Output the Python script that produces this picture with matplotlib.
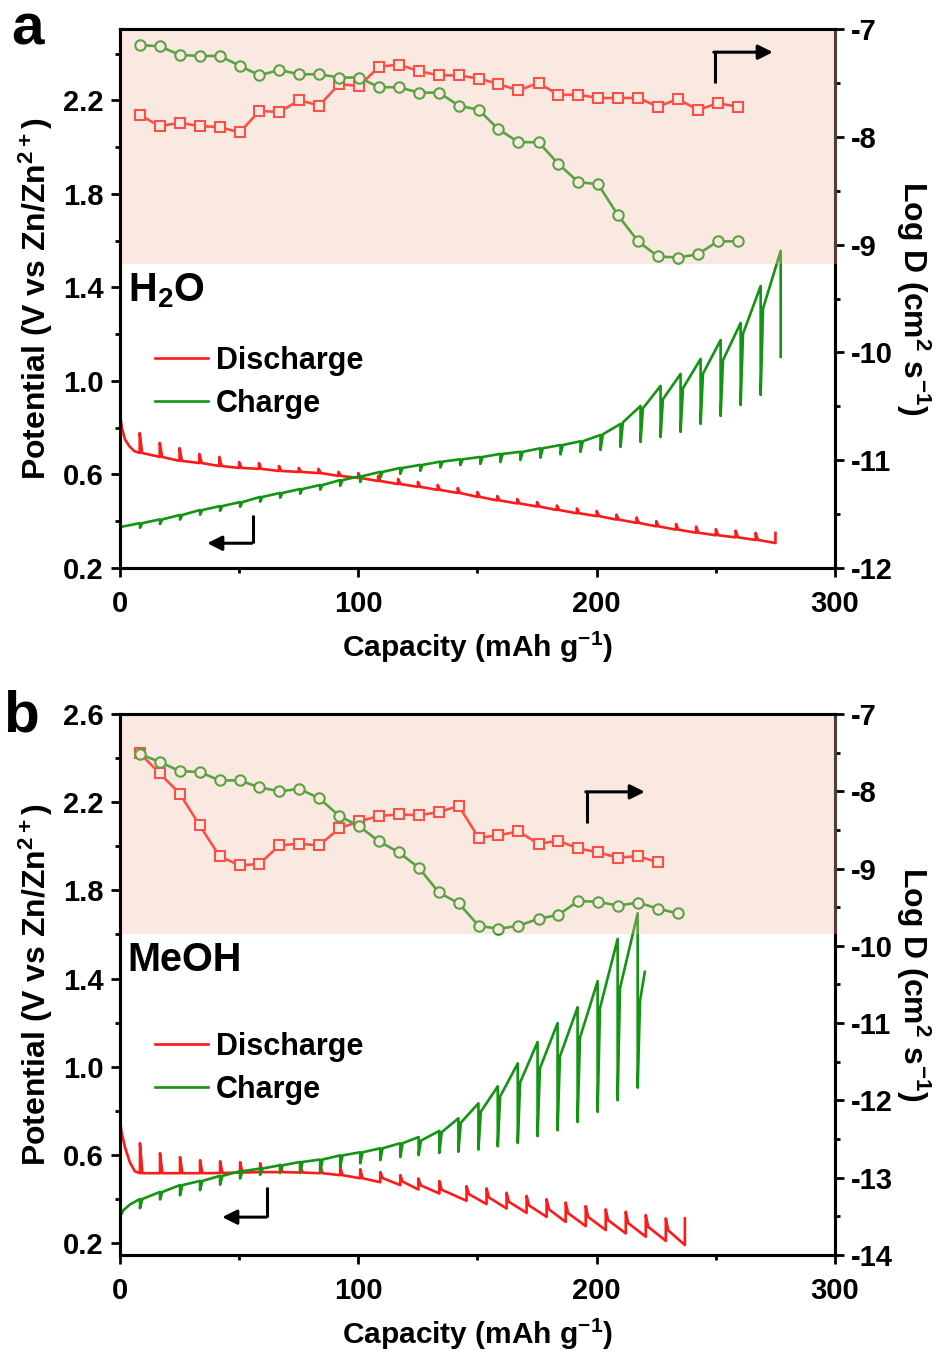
import matplotlib
matplotlib.use("Agg")
import matplotlib.pyplot as plt
from matplotlib.patches import Rectangle
from matplotlib.ticker import MultipleLocator

plt.rcParams.update({
    "font.family": "Liberation Sans",
    "font.weight": "bold",
    "axes.labelweight": "bold",
    "axes.unicode_minus": False,
    "mathtext.fontset": "custom",
    "mathtext.rm": "Liberation Sans:bold",
    "mathtext.it": "Liberation Sans:bold",
    "mathtext.bf": "Liberation Sans:bold",
    "mathtext.default": "rm",
})

RED = "#ff1a1a"
GREEN = "#139413"

# ---------------- panel a (H2O) ----------------
# GITT discharge: pulse ends, relaxed tops
a_dis_head_x = [0, 0.8, 2.1, 4.0, 6.0]
a_dis_head_v = [0.86, 0.80, 0.75, 0.72, 0.70]
a_dis_cap = [8.3, 16.7, 25.0, 33.3, 41.7, 50.0, 58.3, 66.7, 75.0, 83.3, 91.7, 100.0,
             108.3, 116.7, 125.0, 133.3, 141.7, 150.0, 158.3, 166.7, 175.0, 183.3,
             191.7, 200.0, 208.3, 216.7, 225.0, 233.3, 241.7, 250.0, 258.3, 266.7, 275.0]
a_dis_end = [0.692, 0.675, 0.658, 0.649, 0.636, 0.628, 0.624, 0.615, 0.611, 0.606, 0.594,
             0.585, 0.572, 0.559, 0.547, 0.534, 0.521, 0.504, 0.489, 0.476, 0.463, 0.448,
             0.434, 0.422, 0.407, 0.393, 0.378, 0.364, 0.351, 0.340, 0.331, 0.320, 0.307]
a_dis_top = [0.777, 0.735, 0.713, 0.688, 0.675, 0.653, 0.649, 0.636, 0.628, 0.624, 0.611,
             0.606, 0.594, 0.581, 0.568, 0.555, 0.542, 0.525, 0.508, 0.495, 0.482, 0.467,
             0.455, 0.444, 0.428, 0.416, 0.400, 0.388, 0.377, 0.366, 0.360, 0.350, 0.350]

# GITT charge: pulse peaks, relaxed troughs, value right after restart
a_chg_head_x = [0]
a_chg_head_v = [0.375]
a_chg_cap = [8.4, 16.8, 25.2, 33.6, 42.0, 50.4, 58.8, 67.2, 75.6, 84.0, 92.4, 100.8,
             109.2, 117.6, 126.0, 134.4, 142.8, 151.2, 159.6, 168.0, 176.4, 184.8,
             193.2, 201.6, 210.0, 218.4, 226.8, 235.2, 243.6, 252.0, 260.4, 268.8, 277.2]
a_chg_peak = [0.392, 0.408, 0.427, 0.448, 0.465, 0.482, 0.504, 0.521, 0.538, 0.555, 0.576,
              0.593, 0.611, 0.628, 0.641, 0.655, 0.665, 0.675, 0.688, 0.697, 0.712, 0.726,
              0.742, 0.769, 0.816, 0.893, 0.979, 1.030, 1.094, 1.175, 1.248, 1.406, 1.556]
a_chg_rest = [0.372, 0.388, 0.407, 0.428, 0.445, 0.462, 0.484, 0.501, 0.518, 0.535, 0.551,
              0.568, 0.586, 0.603, 0.616, 0.630, 0.640, 0.645, 0.653, 0.662, 0.672, 0.686,
              0.697, 0.705, 0.718, 0.739, 0.760, 0.782, 0.816, 0.850, 0.897, 0.940, 1.103]
a_chg_restart = [0.392, 0.408, 0.427, 0.448, 0.465, 0.482, 0.504, 0.521, 0.538, 0.555, 0.576,
                 0.593, 0.611, 0.628, 0.641, 0.655, 0.665, 0.675, 0.688, 0.697, 0.712, 0.726,
                 0.742, 0.772, 0.823, 0.883, 0.922, 0.969, 1.031, 1.089, 1.202, 1.310]

# diffusion coefficient (log D)
a_d_cap = [8.4, 16.7, 25.1, 33.4, 41.8, 50.2, 58.5, 66.9, 75.2, 83.6, 92.0, 100.3, 108.7,
           117.0, 125.4, 133.8, 142.1, 150.5, 158.8, 167.2, 175.6, 183.9, 192.3, 200.6,
           209.0, 217.4, 225.7, 234.1, 242.4, 250.8, 259.2]
a_logd_dis = [-7.80, -7.90, -7.87, -7.90, -7.91, -7.96, -7.76, -7.77, -7.66, -7.71, -7.51,
              -7.53, -7.35, -7.33, -7.39, -7.43, -7.43, -7.46, -7.51, -7.57, -7.50, -7.61,
              -7.61, -7.64, -7.64, -7.64, -7.72, -7.65, -7.75, -7.69, -7.72]
a_logd_chg = [-7.15, -7.16, -7.24, -7.25, -7.25, -7.34, -7.43, -7.38, -7.42, -7.42, -7.45,
              -7.45, -7.54, -7.54, -7.59, -7.59, -7.71, -7.75, -7.93, -8.05, -8.05, -8.25,
              -8.42, -8.44, -8.73, -8.97, -9.11, -9.12, -9.09, -8.97, -8.97]

# ---------------- panel b (MeOH) ----------------
b_dis_head_x = [0, 0.7, 2.1, 4.2, 6.3]
b_dis_head_v = [0.76, 0.70, 0.635, 0.565, 0.525]
b_dis_cap = [8.4, 16.8, 25.2, 33.6, 42.0, 50.4, 58.8, 67.2, 75.6, 84.0, 92.4, 100.8, 109.2,
             117.6, 125.2, 134.0, 145.4, 153.8, 162.2, 170.6, 179.0, 187.0, 195.4, 203.8,
             212.2, 220.6, 229.0, 237.0]
b_dis_end = [0.517, 0.517, 0.517, 0.517, 0.518, 0.520, 0.522, 0.522, 0.520, 0.517, 0.508,
             0.494, 0.476, 0.463, 0.443, 0.425, 0.392, 0.377, 0.357, 0.337, 0.319, 0.296,
             0.277, 0.259, 0.244, 0.229, 0.210, 0.191]
b_dis_top = [0.653, 0.608, 0.590, 0.576, 0.571, 0.567, 0.562, 0.555, 0.555, 0.553, 0.544,
             0.535, 0.522, 0.508, 0.493, 0.482, 0.458, 0.448, 0.428, 0.414, 0.399, 0.384,
             0.368, 0.353, 0.342, 0.327, 0.312, 0.312]
b_dis_restart = [0.517, 0.517, 0.517, 0.517, 0.518, 0.520, 0.522, 0.522, 0.520, 0.517, 0.508,
                 0.494, 0.495, 0.479, 0.462, 0.442, 0.422, 0.407, 0.387, 0.371, 0.353, 0.336,
                 0.319, 0.304, 0.291, 0.274, 0.258]

b_chg_head_x = [0, 1.5, 4.2]
b_chg_head_v = [0.32, 0.35, 0.375]
b_chg_cap = [8.4, 16.8, 25.2, 33.6, 42.0, 50.4, 58.8, 67.2, 75.6, 84.0, 92.4, 100.8, 109.2,
             117.6, 125.3, 134.0, 142.0, 150.4, 158.5, 166.9, 175.2, 183.6, 192.0, 200.4,
             208.8, 217.2]
b_chg_peak = [0.400, 0.432, 0.463, 0.482, 0.505, 0.526, 0.538, 0.553, 0.568, 0.579, 0.598,
              0.612, 0.630, 0.653, 0.681, 0.709, 0.766, 0.834, 0.911, 1.015, 1.112, 1.198,
              1.270, 1.388, 1.580, 1.696]
b_chg_rest = [0.358, 0.398, 0.417, 0.440, 0.465, 0.493, 0.510, 0.518, 0.518, 0.520, 0.545,
              0.562, 0.576, 0.590, 0.599, 0.609, 0.614, 0.624, 0.639, 0.654, 0.685, 0.712,
              0.749, 0.795, 0.848, 0.905]
b_chg_restart = [0.400, 0.432, 0.463, 0.482, 0.505, 0.526, 0.538, 0.553, 0.568, 0.579, 0.598,
                 0.612, 0.630, 0.653, 0.665, 0.703, 0.746, 0.796, 0.865, 0.929, 0.993, 1.047,
                 1.132, 1.266, 1.357, 1.300]
b_chg_tail_x = [220.2]
b_chg_tail_v = [1.43]

b_d_dis_cap = [8.4, 16.7, 25.1, 33.4, 41.8, 50.2, 58.5, 66.9, 75.2, 83.6, 92.0, 100.3, 108.7,
               117.0, 125.4, 133.8, 142.1, 150.5, 158.8, 167.2, 175.6, 183.9, 192.3, 200.6,
               209.0, 217.4, 225.7]
b_logd_dis = [-7.51, -7.77, -8.03, -8.44, -8.84, -8.96, -8.94, -8.70, -8.68, -8.70, -8.48,
              -8.39, -8.32, -8.30, -8.31, -8.27, -8.19, -8.60, -8.57, -8.52, -8.68, -8.64,
              -8.74, -8.79, -8.86, -8.84, -8.92]
b_d_chg_cap = b_d_dis_cap + [234.1]
b_logd_chg = [-7.52, -7.62, -7.74, -7.75, -7.86, -7.86, -7.95, -8.00, -7.97, -8.09, -8.32,
              -8.45, -8.65, -8.79, -8.99, -9.31, -9.45, -9.74, -9.78, -9.74, -9.65, -9.60,
              -9.42, -9.43, -9.48, -9.44, -9.52, -9.58]


def gitt_path(head_x, head_v, cap, end, rest, restart=None, tail_x=(), tail_v=(), dx=1.0):
    # stitch the pulse / relaxation readings into one polyline
    xs, ys = list(head_x), list(head_v)
    n = len(cap)
    for i in range(n):
        xs += [cap[i], cap[i]]
        ys += [end[i], rest[i]]
        if i < n - 1 or len(tail_x):
            xs.append(cap[i] + dx)
            ys.append(restart[i] if restart is not None else end[i])
    xs += list(tail_x)
    ys += list(tail_v)
    return xs, ys


def arrow(ax, x0, y0, y1, x1):
    ax.plot([x0, x0], [y0, y1], transform=ax.transAxes, color="k", lw=2.2,
            solid_capstyle="butt", zorder=10, clip_on=False)
    ax.annotate("", xy=(x1, y1), xytext=(x0 - 0.0015, y1), xycoords="axes fraction",
                arrowprops=dict(arrowstyle="-|>", color="k", lw=2.2, mutation_scale=22,
                                shrinkA=0, shrinkB=0), zorder=10)


def panel(ax, dis, chg, d_dis, d_chg, ylim, yticks, ylim2, shade_v, name, name_y,
          arrows):
    ax2 = ax.twinx()
    ax.plot(*dis, color=RED, lw=1.9, label="Discharge")
    ax.plot(*chg, color=GREEN, lw=1.9, label="Charge")
    ax2.plot(*d_dis, "-s", color=RED, mfc="white", ms=7.5, mew=1.5, lw=1.9, zorder=3)
    ax2.plot(*d_chg, "-o", color=GREEN, mfc="white", ms=7.5, mew=1.5, lw=1.9, zorder=3)

    ax.set_xlim(0, 300)
    ax.set_ylim(*ylim)
    ax2.set_ylim(*ylim2)
    ax.set_yticks(yticks)
    ax.yaxis.set_minor_locator(MultipleLocator(0.2))
    ax.xaxis.set_major_locator(MultipleLocator(100))
    ax.xaxis.set_minor_locator(MultipleLocator(50))
    ax2.yaxis.set_major_locator(MultipleLocator(1))
    ax2.yaxis.set_minor_locator(MultipleLocator(0.5))

    for a in (ax, ax2):
        for s in a.spines.values():
            s.set_linewidth(2.2)
        a.tick_params(which="both", direction="out", width=2.0, labelsize=21, pad=5)
        a.tick_params(which="major", length=6.5)
        a.tick_params(which="minor", length=3.5)
    ax.tick_params(top=False, right=False, which="both")
    ax.tick_params(axis="x", which="both", pad=9)

    # translucent band over the upper part
    frac = (shade_v - ylim[0]) / (ylim[1] - ylim[0])
    ax2.add_patch(Rectangle((0.003, frac), 1.0, 0.996 - frac, transform=ax2.transAxes,
                            facecolor="#eebfa6", edgecolor="none", alpha=0.33,
                            zorder=6, clip_on=False))

    ax.set_xlabel("Capacity (mAh g$^{-1}$)", fontsize=21.5, labelpad=9)
    ax.set_ylabel("Potential (V vs Zn/Zn$^{2+}$)", fontsize=23, labelpad=6)
    ax2.set_ylabel("Log D (cm$^2$ s$^{-1}$)", fontsize=23, rotation=270, va="bottom",
                   labelpad=1)

    ax.text(0.011, name_y, name, transform=ax.transAxes, fontsize=28.5, va="center",
            ha="left")
    ax.legend(loc="upper left", bbox_to_anchor=(0.049, 0.412), frameon=False,
              fontsize=22, handlelength=1.75, handletextpad=0.25, labelspacing=0.42,
              borderpad=0, borderaxespad=0)
    for arr in arrows:
        arrow(ax2, *arr)


fig = plt.figure(figsize=(9.46, 13.55), dpi=100)
ax_a = fig.add_axes([0.1268, 0.5808, 0.7559, 0.3978])
ax_b = fig.add_axes([0.1268, 0.0738, 0.7559, 0.3993])

panel(ax_a,
      gitt_path(a_dis_head_x, a_dis_head_v, a_dis_cap, a_dis_end, a_dis_top),
      gitt_path(a_chg_head_x, a_chg_head_v, a_chg_cap, a_chg_peak, a_chg_rest, a_chg_restart),
      (a_d_cap, a_logd_dis), (a_d_cap, a_logd_chg),
      (0.2, 2.505), [0.2, 0.6, 1.0, 1.4, 1.8, 2.2], (-12, -7), 1.5,
      "H$_2$O", 0.515,
      [(0.186, 0.098, 0.046, 0.122), (0.832, 0.900, 0.957, 0.913)])

panel(ax_b,
      gitt_path(b_dis_head_x, b_dis_head_v, b_dis_cap, b_dis_end, b_dis_top, b_dis_restart),
      gitt_path(b_chg_head_x, b_chg_head_v, b_chg_cap, b_chg_peak, b_chg_rest, b_chg_restart,
                b_chg_tail_x, b_chg_tail_v),
      (b_d_dis_cap, b_logd_dis), (b_d_chg_cap, b_logd_chg),
      (0.146, 2.6), [0.2, 0.6, 1.0, 1.4, 1.8, 2.2, 2.6], (-14, -7), 1.6,
      "MeOH", 0.545,
      [(0.206, 0.126, 0.070, 0.143), (0.653, 0.799, 0.856, 0.734)])

fig.text(0.012, 0.9668, "a", fontsize=42, va="baseline", ha="left")
fig.text(0.003, 0.4598, "b", fontsize=42, va="baseline", ha="left")

fig.savefig("out.png", dpi=100)
